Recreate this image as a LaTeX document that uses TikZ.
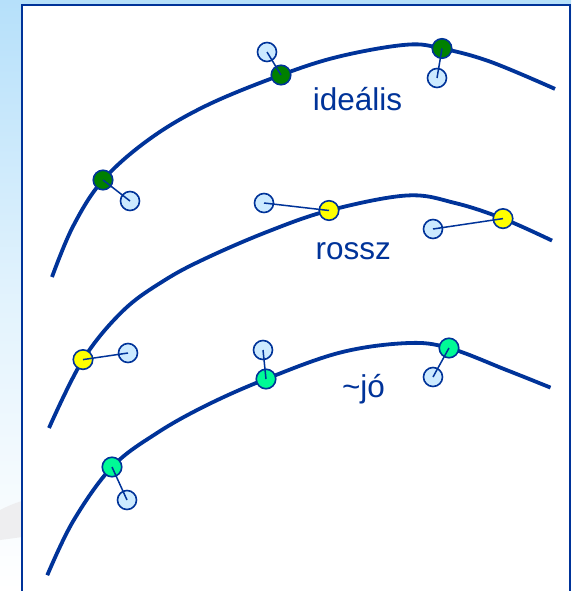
\documentclass[tikz,border=0pt]{standalone}
\usepackage{fontspec}
\setmainfont{Liberation Sans}
\definecolor{navy}{RGB}{0,51,153}
\definecolor{bgblue}{RGB}{182,224,250}
\definecolor{ghostfill}{RGB}{204,234,255}
\definecolor{dgreen}{RGB}{0,128,0}
\definecolor{dyellow}{RGB}{255,255,0}
\definecolor{daqua}{RGB}{0,250,150}
\definecolor{swoosh}{RGB}{238,238,240}
\tikzset{
  curve/.style={draw=navy, line width=3.8pt, line cap=butt},
  dotbase/.style={circle, draw=navy, line width=1.6pt, minimum size=19.5pt, inner sep=0pt},
  dotg/.style={dotbase, fill=dgreen},
  doty/.style={dotbase, fill=dyellow},
  dota/.style={dotbase, fill=daqua},
  ghost/.style={circle, draw=navy, line width=1.6pt, fill=ghostfill, minimum size=19pt, inner sep=0pt},
  link/.style={draw=navy, line width=1.5pt},
  lbl/.style={text=navy, font=\fontsize{31.5}{36}\selectfont, inner sep=0pt},
}
\begin{document}
\begin{tikzpicture}[x=1pt,y=-1pt]
\useasboundingbox (0,0) rectangle (571,591);
% background
\shade[top color=bgblue, bottom color=white, middle color=bgblue!40] (0,0) rectangle (571,591);
\fill[swoosh] (0,510) .. controls (8,506) and (15,503) .. (22,501) -- (22,537) .. controls (15,538) and (8,539) .. (0,540) -- cycle;
% frame
\fill[white] (22,5) rectangle (570,591);
\draw[navy, line width=2pt] (22,595) -- (22,5) -- (570,5) -- (570,595);
% curves
\draw[curve] plot[smooth, tension=0.6] coordinates {(52,277) (73,226.4) (103,180) (150,138.7) (206.7,105.4) (281,75) (340,56.3) (406.7,44.7) (442,48.5) (490,61.6) (555,88.9)};
\draw[curve] plot[smooth, tension=0.6] coordinates {(49,428) (83,359.6) (123.3,310.5) (165,280) (206.7,257.9) (268,231.5) (329,210.5) (406.7,195.5) (455,203) (503,218.6) (552,240.6)};
\draw[curve] plot[smooth, tension=0.6] coordinates {(47.3,575.2) (73.3,520.9) (112,467) (156.7,433.2) (206.7,405.2) (266,379) (340,352.6) (406.7,343.1) (449,348) (506.7,370.1) (550.5,387.6)};
% ideális
\node[dotg] (a1) at (103,180) {};
\node[ghost] (ga1) at (130,201) {};
\node[dotg] (a2) at (281,75) {};
\node[ghost] (ga2) at (267,52) {};
\node[dotg] (a3) at (442,48.5) {};
\node[ghost] (ga3) at (437,78) {};
\draw[link] (ga1.center) -- (a1.center);
\draw[link] (ga2.center) -- (a2.center);
\draw[link] (ga3.center) -- (a3.center);
% rossz
\node[doty] (b1) at (83,359.6) {};
\node[ghost] (gb1) at (128,353) {};
\node[doty] (b2) at (329,210.5) {};
\node[ghost] (gb2) at (264,203) {};
\node[doty] (b3) at (503,218.6) {};
\node[ghost] (gb3) at (433,229) {};
\draw[link] (gb1.center) -- (b1.center);
\draw[link] (gb2.center) -- (b2.center);
\draw[link] (gb3.center) -- (b3.center);
% jo
\node[dota] (c1) at (112,467) {};
\node[ghost] (gc1) at (127,500) {};
\node[dota] (c2) at (266,379) {};
\node[ghost] (gc2) at (263,350) {};
\node[dota] (c3) at (449,348) {};
\node[ghost] (gc3) at (433,377) {};
\draw[link] (gc1.center) -- (c1.center);
\draw[link] (gc2.center) -- (c2.center);
\draw[link] (gc3.center) -- (c3.center);
% labels
\node[lbl] (t1) at (357.5,99) {ideális};
\node[lbl] (t2) at (353.3,251) {rossz};
\node[lbl] (t3) at (363.5,389) {\textasciitilde jó};
\end{tikzpicture}
\end{document}
